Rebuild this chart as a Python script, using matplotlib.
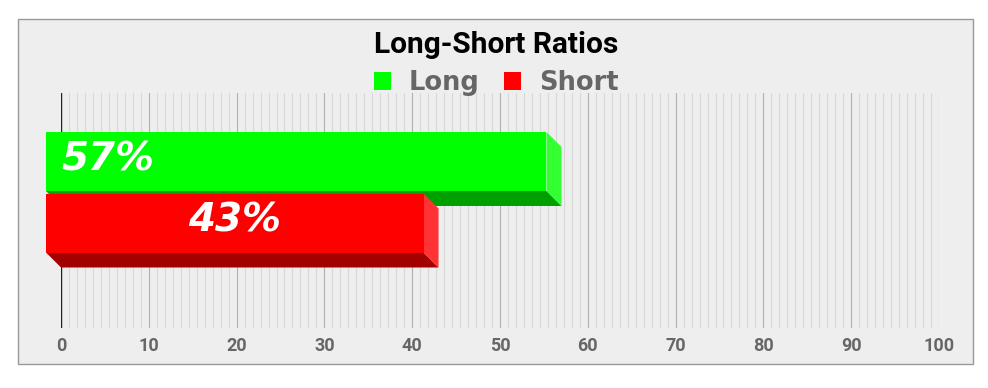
import matplotlib
matplotlib.use("Agg")
import matplotlib.pyplot as plt
from matplotlib.patches import Rectangle, Polygon, Patch
from matplotlib.ticker import MultipleLocator

# ---- data ----
categories = ["Long", "Short"]
values = [57, 43]
value_labels = ["57%", "43%"]
x_ticks = [0, 10, 20, 30, 40, 50, 60, 70, 80, 90, 100]
title = "Long-Short Ratios"

front_colors = ["#00ff00", "#ff0000"]
side_colors = ["#33ff33", "#ff3333"]
bottom_colors = ["#00a000", "#a30000"]

# ---- layout ----
W, H = 988, 388
fig = plt.figure(figsize=(W / 100, H / 100), dpi=100)
fig.patch.set_facecolor("white")

frame = Rectangle((18 / W, 1 - 364 / H), (973 - 18) / W, (364 - 19) / H,
                  transform=fig.transFigure, facecolor="#eeeeee",
                  edgecolor="#999999", lw=1, zorder=-10)
fig.patches.append(frame)

ax_l, ax_r, ax_t, ax_b = 61, 939, 92.5, 327.5
ax = fig.add_axes([ax_l / W, 1 - ax_b / H, (ax_r - ax_l) / W, (ax_b - ax_t) / H])
ax.set_zorder(1)
ax.set_facecolor("#eeeeee")
ax.set_xlim(0, 100)
ax.set_ylim(-0.5, 0.5)
ax.set_axisbelow(True)
ax.set_xticks(x_ticks)
ax.set_xticklabels([str(t) for t in x_ticks])
ax.xaxis.set_minor_locator(MultipleLocator(10 / 11))
ax.grid(which="minor", axis="x", color="#d8d8d8", lw=0.8, zorder=0)
ax.grid(which="major", axis="x", color="#b0b0b0", lw=0.8, zorder=0)
ax.axvline(0, color="#222222", lw=1, zorder=1)
ax.set_yticks([])
for s in ax.spines.values():
    s.set_visible(False)
ax.tick_params(axis="x", which="both", length=0, pad=7, labelsize=13,
               labelcolor="#666666")
for lbl in ax.get_xticklabels():
    lbl.set_fontfamily("Roboto")
    lbl.set_fontweight("bold")

# 3D bar geometry (depth 15px right/down)
px_x = 100 / (ax_r - ax_l)
px_y = 1.0 / (ax_b - ax_t)
dx = 15 * px_x
dy = 15 * px_y
bar_h = 59 * px_y
positions = [0.5 - (176.5 - ax_t) * px_y, 0.5 - (238 - ax_t) * px_y]

for i, (cat, v) in enumerate(zip(categories, values)):
    c = positions[i]
    z = 3 + i
    bot = c - bar_h / 2
    top = c + bar_h / 2
    # bottom face
    ax.add_patch(Polygon([(-dx, bot + dy), (v - dx, bot + dy), (v, bot), (0, bot)],
                         closed=True, facecolor=bottom_colors[i], edgecolor="none",
                         zorder=z, clip_on=False))
    # side face
    ax.add_patch(Polygon([(v - dx, top + dy), (v, top), (v, bot), (v - dx, bot + dy)],
                         closed=True, facecolor=side_colors[i], edgecolor="none",
                         zorder=z, clip_on=False))
    # front face
    bars = ax.barh([c + dy], [v], left=-dx, height=bar_h, color=front_colors[i],
                   edgecolor="none", zorder=z + 0.1)
    for b in bars:
        b.set_clip_on(False)

# value labels
lab_y = [positions[0] + 6 * px_y, positions[1] + 6 * px_y]
ax.text(0, lab_y[0], value_labels[0], ha="left", va="baseline", color="white",
        fontsize=28, fontweight="bold", fontstyle="oblique",
        fontfamily="DejaVu Sans", zorder=10)
ax.text(values[1] / 2 - dx, lab_y[1], value_labels[1], ha="center", va="baseline",
        color="white", fontsize=28, fontweight="bold", fontstyle="oblique",
        fontfamily="DejaVu Sans", zorder=10)

# title
fig.text(496 / W, 1 - 53.3 / H, title, ha="center", va="baseline",
         fontfamily="Roboto", fontweight="bold", fontsize=21.5, color="black")

# legend
handles = [Patch(facecolor=front_colors[i], edgecolor="none", label=categories[i])
           for i in range(len(categories))]
fig.legend(handles=handles, loc="center", bbox_to_anchor=(496 / W, 1 - 83 / H),
           ncol=2, frameon=False,
           prop={"family": "DejaVu Sans", "weight": "bold", "size": 18.5},
           labelcolor="#666666", handlelength=0.68, handleheight=0.68,
           handletextpad=0.68, columnspacing=0.95, borderaxespad=0, borderpad=0)

fig.savefig("out.png", dpi=100, facecolor="white")
